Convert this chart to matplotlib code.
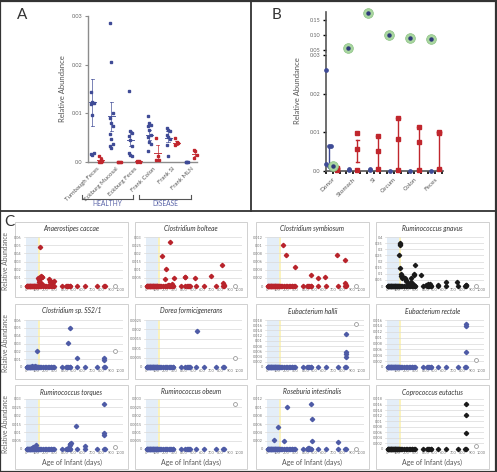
import numpy as np
import matplotlib.pyplot as plt
from matplotlib.lines import Line2D
from matplotlib.patches import Rectangle
from matplotlib.ticker import FuncFormatter

plt.rcParams['font.family'] = ['Lato', 'DejaVu Sans']

W, H = 497, 472
BLUE = '#3f4b96'
RED = '#c0262d'
C_BLUE = '#4e5ba6'
C_RED = '#b8232b'
BLACK = '#1a1a1a'
GREEN = '#a9d6a0'
GRAY = '#666666'

# ---------------- panel A data ----------------
a_cats = ["Turnbaugh Feces", "Eckburg Mucosal", "Eckburg Feces",
          "Frank Colon", "Frank SI", "Frank MLN"]
a_blue = [
    [0.0143, 0.0123, 0.0121, 0.0119, 0.0096, 0.0018, 0.0016, 0.0015],
    [0.0286, 0.0206, 0.0100, 0.0090, 0.0081, 0.0073, 0.0057, 0.0047, 0.0037, 0.0032, 0.0029],
    [0.0145, 0.0063, 0.0059, 0.0054, 0.0046, 0.0032, 0.0018, 0.0015, 0.0012],
    [0.0094, 0.0080, 0.0076, 0.0073, 0.0066, 0.0056, 0.0051, 0.0042, 0.0037, 0.0022],
    [0.0070, 0.0066, 0.0063, 0.0056, 0.0052, 0.0047, 0.0034, 0.0012],
    [0.0, 0.0, 0.0, 0.0],
]
a_red = [
    [0.0013, 0.0006, 0.0003, 0.0001, 0.0001],
    [0.0, 0.0, 0.0, 0.0],
    [0.0003, 0.0002, 0.0001, 0.0],
    [0.0049, 0.0012, 0.0005, 0.0004],
    [0.0049, 0.0042, 0.0039, 0.0034],
    [0.0024, 0.0022, 0.0015, 0.0008],
]
a_blue_mean = [0.0123, 0.0094, 0.0046, 0.0056, 0.0050, 0.0]
a_blue_lo = [0.0073, 0.0064, 0.0032, 0.0046, 0.0042, 0.0]
a_blue_hi = [0.0171, 0.0124, 0.0063, 0.0066, 0.0063, 0.0]
a_red_mean = [0.0005, 0.0, 0.0002, 0.0018, 0.0039, 0.0017]
a_red_lo = [0.0001, 0.0, 0.0001, 0.0002, 0.0035, 0.0012]
a_red_hi = [0.0010, 0.0, 0.0003, 0.0034, 0.0043, 0.0022]

# ---------------- panel B data ----------------
b_cats = ["Donor", "Stomach", "SI", "Cecum", "Colon", "Feces"]
b_blue = [[0.026, 0.0065, 0.0065, 0.0018, 0.0012, 0.0008],
          [0.0004, 0.0002], [0.0005, 0.0003], [0.0001], [0.0001], [0.0001]]
b_blue_lo = [0.0008, 0.0002, 0.0003, 0.0001, 0.0001, 0.0001]
b_blue_hi = [0.0065, 0.0004, 0.0005, 0.0001, 0.0001, 0.0001]
b_red = [[0.0008, 0.0004, 0.0002], [0.0099, 0.0056, 0.0003],
         [0.0090, 0.0051, 0.0005], [0.0138, 0.0083, 0.0002],
         [0.0115, 0.0075, 0.0002], [0.0101, 0.0099, 0.0005]]
b_red_lo = [0.0002, 0.0023, 0.0003, 0.0002, 0.0002, 0.0005]
b_red_hi = [0.0008, 0.0079, 0.0090, 0.0138, 0.0115, 0.0101]
b_green = [0.0013, 0.0576, 0.1757, 0.099, 0.091, 0.0886]

# ---------------- panel C data ----------------
sample_days = [3, 8, 12, 17, 21, 26, 30, 35, 40, 44, 49, 53, 58, 63, 67, 72, 77,
               81, 86, 91, 96, 100, 105, 110, 115, 119, 124, 133, 142, 160, 182,
               196, 207, 226, 241, 258, 268, 283, 292, 377, 420, 436, 449, 460,
               469, 540, 623, 748, 830, 838]
c_titles = ["Anaerostipes caccae", "Clostridium bolteae", "Clostridium symbiosum",
            "Ruminococcus gnavus", "Clostridium sp. SS2/1", "Dorea formicigenerans",
            "Eubacterium hallii", "Eubacterium rectale", "Ruminococcus torques",
            "Ruminococcus obeum", "Roseburia intestinalis", "Coprococcus eutactus"]
c_colors = [C_RED, C_RED, C_RED, BLACK, C_BLUE, C_BLUE, C_BLUE, C_BLUE,
            C_BLUE, C_BLUE, C_BLUE, BLACK]
c_ymax = [0.06, 0.03, 0.012, 0.4, 0.06, 0.0025, 0.018, 0.016, 0.03, 0.003, 0.012, 0.018]
c_ystep = [0.01, 0.005, 0.002, 0.05, 0.01, 0.0005, 0.002, 0.002, 0.005, 0.0005, 0.002, 0.002]
c_days = [
    [145, 121, 130, 138, 150, 160, 168, 172, 135, 155, 241, 248, 252, 258, 265, 276, 285, 293, 262, 180],
    [260, 171, 207, 205, 300, 280, 411, 418, 525, 693, 811, 830, 832, 245, 232],
    [168, 196, 296, 464, 539, 618, 743, 832, 832, 835],
    [131, 131, 131, 125, 138, 145, 150, 160, 170, 185, 195, 200, 220, 250, 252, 290,
     280, 285, 270, 260, 362, 415, 430, 450, 540, 627, 745, 837, 840, 240, 300],
    [114, 466, 448, 541, 828, 830, 60, 90],
    [548],
    [839, 839, 841, 842],
    [833, 833, 833],
    [825, 826, 828, 533, 621, 460, 465, 470, 475, 455, 105, 95, 60, 70],
    [],
    [207, 464, 475, 118, 71, 178, 475, 750, 430, 445],
    [833, 833, 833],
]
c_vals = [
    [0.048, 0.010, 0.0085, 0.0075, 0.011, 0.012, 0.011, 0.0105, 0.0055, 0.004, 0.009,
     0.0065, 0.005, 0.003, 0.0045, 0.005, 0.0055, 0.006, 0.0015, 0.001],
    [0.0271, 0.0182, 0.0103, 0.0043, 0.0048, 0.0015, 0.0054, 0.0058, 0.0052, 0.0064,
     0.0130, 0.0017, 0.0006, 0.0008, 0.0004],
    [0.010, 0.0075, 0.0047, 0.0028, 0.0020, 0.0021, 0.0076, 0.0064, 0.0007, 0.0003],
    [0.352, 0.342, 0.332, 0.252, 0.148, 0.099, 0.080, 0.065, 0.070, 0.065, 0.050,
     0.040, 0.025, 0.065, 0.036, 0.170, 0.099, 0.093, 0.020, 0.010, 0.088, 0.010,
     0.015, 0.020, 0.012, 0.030, 0.036, 0.010, 0.005, 0.005, 0.004],
    [0.021, 0.0495, 0.0306, 0.0117, 0.011, 0.0088, 0.001, 0.001],
    [0.0019],
    [0.0128, 0.0056, 0.0050, 0.0040],
    [0.0147, 0.0141, 0.0052],
    [0.0268, 0.0095, 0.0085, 0.0139, 0.0016, 0.0026, 0.003, 0.0032, 0.0036, 0.0012,
     0.0022, 0.001, 0.0008, 0.0012],
    [],
    [0.010, 0.0107, 0.0071, 0.0052, 0.0022, 0.0019, 0.0020, 0.0016, 0.0003, 0.0002],
    [0.0161, 0.0124, 0.0056],
]
c_hollow_day = [945, 950, 950, 947, 941, 952, 950, 947, 940, 955, 950, 947]
c_hollow_val = [0.0, 0.0, 0.0, 0.0, 0.021, 0.0005, 0.0165, 0.0024, 0.001, 0.0027, 0.0, 0.0012]


fig = plt.figure(figsize=(W / 100, H / 100), dpi=100)


def add_ax(l, t, r, b):
    return fig.add_axes([l / W, 1 - b / H, (r - l) / W, (b - t) / H])


def fline(x0, y0, x1, y1, **kw):
    fig.add_artist(Line2D([x0 / W, x1 / W], [1 - y0 / H, 1 - y1 / H], **kw))


# frames
fig.add_artist(Rectangle((0.001, 0.001), 0.997, 0.997, transform=fig.transFigure,
                         fill=False, ec='#333333', lw=1.6))
fline(251, 0, 251, 211, color='#333333', lw=1.3)
fline(0, 211, W, 211, color='#333333', lw=1.3)

# ---------------- panel A ----------------
axA = add_ax(88, 16, 197, 162)
axA.set_xlim(-0.45, 5.3)
axA.set_ylim(0, 0.03)
for s in ['top', 'right']:
    axA.spines[s].set_visible(False)
for s in ['left', 'bottom']:
    axA.spines[s].set_color('#8c8c8c')
    axA.spines[s].set_linewidth(1.0)
axA.set_yticks([0, 0.01, 0.02, 0.03])
axA.set_yticklabels(["0.0", "0.01", "0.02", "0.03"])
axA.tick_params(axis='y', labelsize=4, colors='#8c8c8c', labelcolor=GRAY, length=2, pad=2)
axA.set_xticks(range(len(a_cats)))
axA.set_xticklabels(a_cats, rotation=45, ha='right', rotation_mode='anchor')
axA.tick_params(axis='x', labelsize=4.4, labelcolor='#555555', length=0, pad=3)
axA.set_ylabel("Relative Abundance", fontsize=5.5, color='#555555', labelpad=4)


def spread(n, w):
    k = np.arange(n)
    return ((k % 3) - 1) * w


for i in range(len(a_cats)):
    for vals, off, col, m, lo, hi in [
        (a_blue[i], -0.22, BLUE, a_blue_mean[i], a_blue_lo[i], a_blue_hi[i]),
        (a_red[i], 0.22, RED, a_red_mean[i], a_red_lo[i], a_red_hi[i])]:
        xs = i + off + spread(len(vals), 0.07)
        axA.plot(xs, vals, 's', ms=2.0, color=col, clip_on=False, zorder=3)
        if hi > lo:
            x0 = i + off
            axA.plot([x0, x0], [lo, hi], color=col, lw=0.6, alpha=0.8)
            axA.plot([x0 - 0.09, x0 + 0.09], [lo, lo], color=col, lw=0.6, alpha=0.8)
            axA.plot([x0 - 0.09, x0 + 0.09], [hi, hi], color=col, lw=0.6, alpha=0.8)
            axA.plot([x0 - 0.18, x0 + 0.18], [m, m], color=col, lw=0.7, alpha=0.9)

fig.text(17 / W, 1 - 15 / H, "A", fontsize=11, color='#333333', va='center')

# HEALTHY / DISEASE brackets
for x0, x1, lab in [(82, 133, "HEALTHY"), (139, 191, "DISEASE")]:
    fline(x0, 199, x1, 199, color='#555555', lw=0.8)
    fline(x0, 199, x0, 195, color='#555555', lw=0.8)
    fline(x1, 199, x1, 195, color='#555555', lw=0.8)
    fig.text((x0 + x1) / 2 / W, 1 - 204 / H, lab, fontsize=4.8, color='#5a64a8',
             ha='center', va='center')

# ---------------- panel B ----------------
axBl = add_ax(326, 55, 443, 171)
axBu = add_ax(326, 12, 443, 53)
for ax in (axBl, axBu):
    ax.set_xlim(-0.25, 5.4)
    for s in ['top', 'right']:
        ax.spines[s].set_visible(False)
    ax.spines['left'].set_color('#555555')
    ax.spines['left'].set_linewidth(1.2)
    ax.tick_params(axis='y', labelsize=4, labelcolor=GRAY, length=2, width=1, pad=2)
axBl.set_ylim(0, 0.03)
axBl.set_yticks([0, 0.01, 0.02, 0.03])
axBl.set_yticklabels(["0.0", "0.01", "0.02", "0.03"])
axBu.set_ylim(0.04, 0.1775)
axBu.set_yticks([0.05, 0.10, 0.15])
axBu.set_yticklabels(["0.05", "0.10", "0.15"])
axBu.spines['bottom'].set_visible(False)
axBu.set_xticks([])
axBl.spines['bottom'].set_color('#555555')
axBl.spines['bottom'].set_linewidth(1.2)
axBl.set_xticks(range(len(b_cats)))
axBl.set_xticklabels(b_cats, rotation=45, ha='right', rotation_mode='anchor')
axBl.set_xticks([i + d for i in range(len(b_cats)) for d in (-1 / 3, 1 / 3)], minor=True)
axBl.tick_params(axis='x', which='both', labelsize=4.6, labelcolor='#555555',
                 length=2, width=1.2, color='black', pad=2)

for i in range(len(b_cats)):
    xb, xr = i - 0.2, i + 0.2
    axBl.plot([xb, xb], [b_blue_lo[i], b_blue_hi[i]], color=BLUE, lw=1.0)
    xs = xb + spread(len(b_blue[i]), 0.12) * (i == 0)
    axBl.plot(xs, b_blue[i], 'o', ms=2.4, color=BLUE, zorder=4, clip_on=False)
    axBl.plot([xr, xr], [b_red_lo[i], b_red_hi[i]], color=RED, lw=1.0)
    axBl.plot([xr - 0.08, xr + 0.08], [b_red_lo[i], b_red_lo[i]], color=RED, lw=1.0)
    axBl.plot([xr - 0.08, xr + 0.08], [b_red_hi[i], b_red_hi[i]], color=RED, lw=1.0)
    axBl.plot([xr] * len(b_red[i]), b_red[i], 's', ms=2.4, color=RED, zorder=4, clip_on=False)
    axg = axBl if b_green[i] < 0.03 else axBu
    xg = i if i == 0 else xb
    axg.plot([xg], [b_green[i]], 'o', ms=7, mfc=GREEN, mec='#8cc283', mew=0.5,
             zorder=5, clip_on=False)
    axg.plot([xg], [b_green[i]], 'o', ms=2.2, color='#2f3a7a', zorder=6, clip_on=False)

fig.text(298 / W, 1 - 91 / H, "Relative Abundance", fontsize=5.5, color='#555555',
         rotation=90, ha='center', va='center')
fig.text(272 / W, 1 - 15 / H, "B", fontsize=11, color='#333333', va='center')

# ---------------- panel C ----------------
fig.text(4 / W, 1 - 222 / H, "C", fontsize=11, color='#333333', va='center')
card_cols = [(15, 128), (135, 247), (256, 369), (376, 489)]
card_rows = [(222, 297), (304, 379), (385, 469)]
ax_rows = [(237, 286), (320, 367), (399, 449)]

fmt = FuncFormatter(lambda v, p: f"{v:g}")

for k in range(12):
    r, c = divmod(k, 4)
    cl, cr = card_cols[c]
    ct, cb = card_rows[r]
    fig.add_artist(Rectangle((cl / W, 1 - cb / H), (cr - cl) / W, (cb - ct) / H,
                             transform=fig.transFigure, fc='white', ec='#d0d0d0',
                             lw=0.7, zorder=-5))
    at, ab = ax_rows[r]
    ax = add_ax(cl + 9, at, cr - 5, ab)
    ax.patch.set_alpha(0)
    ax.set_xlim(-25, 1030)
    ax.set_ylim(0, c_ymax[k])
    ax.axvspan(0, 125, color='#e4eef8', lw=0, zorder=0)
    ax.axvspan(125, 150, color='#fbf3bd', lw=0, zorder=0)
    ax.set_yticks(np.arange(0, c_ymax[k] + c_ystep[k] / 2, c_ystep[k]))
    ax.yaxis.set_major_formatter(fmt)
    ax.set_xticks(range(0, 1001, 100))
    ax.grid(axis='y', color='#d9d9d9', lw=0.5)
    ax.set_axisbelow(True)
    for s in ax.spines.values():
        s.set_visible(False)
    ax.tick_params(labelsize=2.8, labelcolor='#777777', length=0, pad=1.5)
    ax.axhline(0, color='#bdbdbd', lw=0.6, zorder=1)
    col = c_colors[k]
    ax.plot(sample_days, [0] * len(sample_days), 'D', ms=2.2, color=col,
            zorder=3, clip_on=False)
    ax.plot(c_days[k], c_vals[k], 'D', ms=2.2, color=col, zorder=3, clip_on=False)
    ax.plot([c_hollow_day[k]], [c_hollow_val[k]], 'o', ms=2.8, mfc='white',
            mec='#999999', mew=0.6, zorder=3, clip_on=False)
    fig.text((cl + cr) / 2 / W, 1 - (ct + 7) / H, c_titles[k], fontsize=4.8,
             style='italic', color='#333333', ha='center', va='center')
    if r == 2:
        fig.text((cl + cr) / 2 / W, 1 - 462 / H, "Age of Infant (days)", fontsize=5,
                 color='#555555', ha='center', va='center')
    if c == 0:
        fig.text(6 / W, 1 - (at + ab) / 2 / H, "Relative Abundance", fontsize=4.8,
                 color='#666666', rotation=90, ha='center', va='center')

fig.savefig("out.png", dpi=100)
